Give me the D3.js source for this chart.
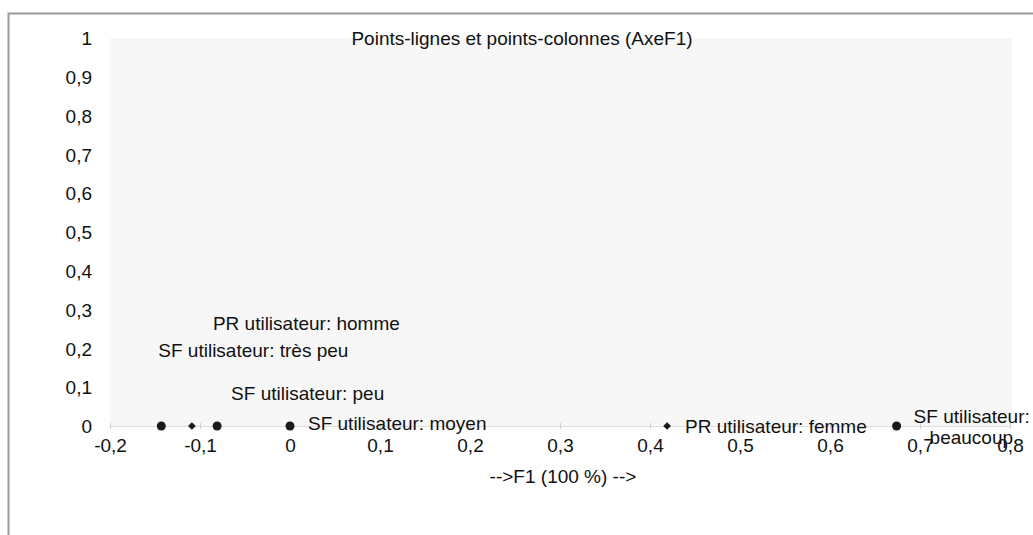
<!DOCTYPE html>
<html>
<head>
    <meta charset='utf-8'>
    <title>Points-lignes et points-colonnes</title>
    <style>
    body {
      margin: 0;
      background: #fff;
      font-family: 'Liberation Sans', Arial, sans-serif;
    }
    </style>
    <script src='https://d3js.org/d3.v7.min.js'></script>
</head>
<body>
<div id="container"></div>
<script>
// ******* Data *******
const labels = ["SF utilisateur: très peu", "PR utilisateur: homme", "SF utilisateur: peu",
                "SF utilisateur: moyen", "PR utilisateur: femme", "SF utilisateur: beaucoup"];
const f1Values = [-0.143, -0.109, -0.081, 0.0, 0.419, 0.674];
const yValues = [0, 0, 0, 0, 0, 0];
const shapes = ["circle", "diamond", "circle", "circle", "diamond", "circle"];
const xTicks = [-0.2, -0.1, 0, 0.1, 0.2, 0.3, 0.4, 0.5, 0.6, 0.7, 0.8];
const yTicks = [0, 0.1, 0.2, 0.3, 0.4, 0.5, 0.6, 0.7, 0.8, 0.9, 1];

// ******* Constants *******
const width = 1033,
      height = 535,
      fontsize = 19;
const plot = {left: 110, right: 1010, top: 38, bottom: 426};

// label offsets (pixels from the marker to the text baseline), as dragged in the original
const labelOffsets = [[-3, -69], [21, -96], [14, -26], [18, 4], [18, 7], [17, -3]];

const fmt = d => String(d).replace(".", ",");

// ******* Set Scales *******
var x = d3.scaleLinear().domain([-0.2, 0.8]).range([plot.left, plot.right]);
var y = d3.scaleLinear().domain([0, 1]).range([plot.bottom, plot.top]);

// ******* Create SVG *******
var svg = d3.select("#container").append("svg")
    .attr("width", width)
    .attr("height", height)
    .style("display", "block")
    .attr("font-family", "'Liberation Sans', Arial, sans-serif");

// outer frame (runs off the right and bottom of the picture)
svg.append("path")
    .attr("d", "M8.5," + (height + 2) + "V13.5H" + (width + 2))
    .attr("fill", "none")
    .attr("stroke", "#9a9a9a")
    .attr("stroke-width", 2);

// plot background
svg.append("rect")
    .attr("x", plot.left)
    .attr("y", plot.top)
    .attr("width", plot.right - plot.left + 2)
    .attr("height", plot.bottom - plot.top)
    .attr("fill", "#f7f7f7");

// title
svg.append("text")
    .attr("x", 522)
    .attr("y", 45)
    .attr("text-anchor", "middle")
    .attr("font-size", fontsize)
    .attr("fill", "#111")
    .text("Points-lignes et points-colonnes (AxeF1)");

// ******* Axes *******
var xAxis = svg.append("g")
    .attr("transform", "translate(0," + y(0) + ")")
    .call(d3.axisBottom(x).tickValues(xTicks).tickFormat(fmt).tickSize(0));
xAxis.select(".domain")
    .attr("stroke", "#bdbdbd")
    .attr("stroke-dasharray", "1,1");
xAxis.selectAll(".tick")
    .append("line")
    .attr("y1", -3)
    .attr("y2", 3)
    .attr("stroke", "#d0d0d0");
xAxis.selectAll(".tick text")
    .attr("y", 26)
    .attr("dy", 0)
    .attr("font-size", fontsize)
    .attr("font-family", "'Liberation Sans', Arial, sans-serif")
    .attr("fill", "#111");

var yAxis = svg.append("g")
    .attr("transform", "translate(" + plot.left + ",0)")
    .call(d3.axisLeft(y).tickValues(yTicks).tickFormat(fmt).tickSize(0).tickPadding(18));
yAxis.select(".domain").remove();
yAxis.selectAll(".tick text")
    .attr("dy", "0.35em")
    .attr("font-size", fontsize)
    .attr("font-family", "'Liberation Sans', Arial, sans-serif")
    .attr("fill", "#111");

svg.append("text")
    .attr("x", 563)
    .attr("y", 483)
    .attr("text-anchor", "middle")
    .attr("font-size", fontsize)
    .attr("fill", "#111")
    .text("-->F1 (100 %) -->");

// ******* Points *******
// square diamond, same width and height
var diamond = {
    draw: function(ctx, size) {
        var r = Math.sqrt(size / 2);
        ctx.moveTo(0, -r);
        ctx.lineTo(r, 0);
        ctx.lineTo(0, r);
        ctx.lineTo(-r, 0);
        ctx.closePath();
    }
};

var pts = svg.selectAll("g.pt")
    .data(labels.map((l, i) => ({label: l, x: f1Values[i], y: yValues[i], shape: shapes[i], off: labelOffsets[i]})))
    .enter()
    .append("g")
    .attr("class", "pt")
    .attr("transform", d => "translate(" + x(d.x) + "," + y(d.y) + ")");

pts.append("path")
    .attr("d", d => d3.symbol()
        .type(d.shape === "circle" ? d3.symbolCircle : diamond)
        .size(d.shape === "circle" ? 64 : 30)())
    .attr("fill", "#1a1a1a");

// labels; "beaucoup" wraps onto a second line
pts.each(function(d) {
    var g = d3.select(this);
    var t = g.append("text")
        .attr("x", d.off[0])
        .attr("y", d.off[1])
        .attr("font-size", fontsize)
        .attr("fill", "#111");
    if (d.label.endsWith("beaucoup")) {
        t.append("tspan").attr("x", d.off[0]).text("SF utilisateur:");
        t.append("tspan").attr("x", d.off[0] + 16).attr("dy", 21).text("beaucoup");
    } else {
        t.text(d.label);
    }
});
</script>
</body>
</html>
